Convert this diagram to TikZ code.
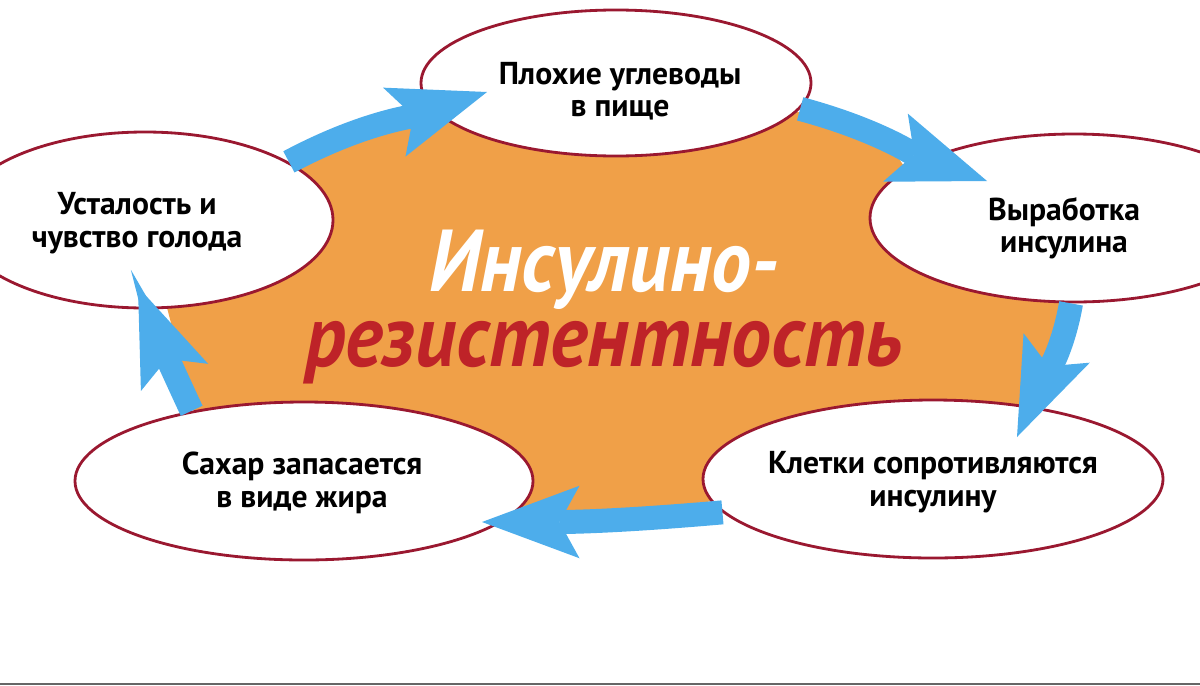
\documentclass[tikz,border=0pt]{standalone}
\usepackage{fontspec}
\setmainfont{PT Sans}
\newfontfamily\titlefont{PT Sans}[FakeStretch=0.91]
\usetikzlibrary{shapes.geometric,arrows.meta}
\definecolor{blobor}{HTML}{F0A048}
\definecolor{flowblue}{HTML}{4DADEB}
\definecolor{rimred}{HTML}{9A1830}
\definecolor{titlered}{HTML}{BE2328}
\begin{document}
\begin{tikzpicture}[x=0.2mm, y=0.2mm,
		bubble/.style={ellipse, draw=rimred, line width=1.6pt, fill=white, inner sep=0pt},
		bubtext/.style={font=\bfseries\fontsize{18}{18.5}\selectfont, align=center, inner sep=0pt},
		flow/.style={draw=flowblue, line width=4.8mm, -{Stealth[length=19.5mm,width=14.5mm,inset=4mm,line width=0pt]}},
		title/.style={font=\titlefont\bfseries\itshape\fontsize{50}{42.7}\selectfont, inner sep=0pt, align=center}]
		\useasboundingbox (0,0) rectangle (1200,-685);
		% orange blob in the middle
		\fill [blobor] (280,-175) -- (400,-125) -- (470,-115) -- (780,-115) -- (798,-112) -- (893,-150) -- (920,-190) -- (1000,-260) -- (1068,-298) -- (1035,-415) -- (900,-440) -- (725,-500) -- (580,-515) -- (490,-505) -- (350,-440) -- (195,-415) -- (165,-300) -- (250,-240) -- cycle;
		% ellipses
		\node [bubble, minimum width=7.8cm, minimum height=2.92cm] (topE) at (616,-83) {};
		\node [bubble, minimum width=8.16cm, minimum height=3.36cm] (rightE) at (1074,-218) {};
		\node [bubble, minimum width=9.2cm, minimum height=3.16cm] (brE) at (933,-479) {};
		\node [bubble, minimum width=9.16cm, minimum height=3.16cm] (blE) at (304,-481) {};
		\node [bubble, minimum width=7.52cm, minimum height=3.52cm] (leftE) at (145,-220) {};
		\node [bubtext] (topT) at (620,-91) {Плохие углеводы\\в пище};
		\node [bubtext] (rightT) at (1064,-228) {Выработка\\инсулина};
		\node [bubtext] (brT) at (933,-482) {Клетки сопротивляются\\инсулину};
		\node [bubtext] (blT) at (302,-483) {Сахар запасается\\в виде жира};
		\node [bubtext] (leftT) at (137,-223) {Усталость и\\чувство голода};
		% arrow tips
		\coordinate (tipA) at (487,-92);
		\coordinate (tipB) at (987,-181);
		\coordinate (tipC) at (1017,-437);
		\coordinate (tipD) at (482,-522);
		\coordinate (tipE) at (138,-287);
		\draw [flow] (leftE.22) to[out=28,in=198] (tipA);
		\draw [flow] (topE.-8) to[out=-15,in=160] (tipB);
		\draw [flow] (rightE.-92) to[out=-100,in=66] (tipC);
		\draw [flow] (brE.189) to[out=185,in=0] (tipD);
		\draw [flow] (blE.148) to[out=115,in=-68] (tipE);
		% title
		\node [title] (resist) at (604,-307) {\textcolor{white}{Инсулино-}\\\textcolor{titlered}{резистентность}};
		\draw [black!60, line width=1.2pt] (0,-684) -- (1200,-684);
\end{tikzpicture}
\end{document}
